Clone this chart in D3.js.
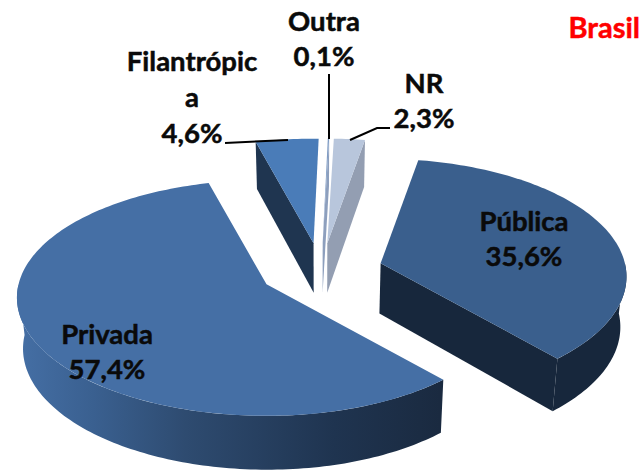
<!DOCTYPE html>
<html>

<head>
    <meta charset="utf-8">
    <title>Brasil</title>
    <script src="https://d3js.org/d3.v7.min.js" charset="utf-8"></script>
</head>

<body>
    <style>
        html,
        body {
            margin: 0;
            padding: 0;
            background: #ffffff;
        }

        svg {
            display: block;
        }

        .label {
            font: bold 27.5px Lato, "Noto Sans", sans-serif;
            fill: #0a0a0a;
            stroke: #0a0a0a;
            stroke-width: 0.5px;
            text-anchor: middle;
        }

        .title {
            font: bold 29px Lato, "Noto Sans", sans-serif;
            fill: #ff0000;
            stroke: #ff0000;
            stroke-width: 0.5px;
            text-anchor: end;
        }

        .leader {
            fill: none;
            stroke: #000000;
            stroke-width: 2px;
        }
    </style>
    <script>
      // values, clockwise from the NR / Publica border
      var categories = ["Pública", "Privada", "Filantrópica", "Outra", "NR"];
      var percentages = [35.6, 57.4, 4.6, 0.1, 2.3];
      var valueLabels = ["35,6%", "57,4%", "4,6%", "0,1%", "2,3%"];

      var faceColors = ["#3a5f8d", "#456fa5", "#4a7cb8", "#7f9cc4", "#b8c6dc"];
      var endWallColors = ["#17273c", null, null, "#8d9fbd", "#939eb2"];
      var startWallColors = [null, null, "#1f3550", null, null];

      var width = 644,
          height = 470;

      // pie geometry: centre, radii, explosion and extrusion of the 3D look
      var centre = {x: 321, y: 271},
          rx = 248,
          ry = 118,
          perspective = 0.114,
          explodeX = 62,
          explodeY = 28,
          bottomShrink = 0.02;

      var depth = d3.scaleLinear().domain([140, 400]).range([47, 53.5]);

      var pie = d3.pie()
                  .sort(null)
                  .startAngle(10 * Math.PI / 180)
                  .endAngle(370 * Math.PI / 180);

      var arcs = pie(percentages);

      var svg = d3.select("body")
                  .append("svg")
                  .attr("width", width)
                  .attr("height", height);

      var defs = svg.append("defs");

      // shaded outer wall of the big slice
      var rimGradient = defs.append("linearGradient")
                            .attr("id", "rim-shade")
                            .attr("gradientUnits", "userSpaceOnUse")
                            .attr("x1", 17).attr("x2", 440)
                            .attr("y1", 0).attr("y2", 0);
      rimGradient.append("stop").attr("offset", "0%").attr("stop-color", "#456fa5");
      rimGradient.append("stop").attr("offset", "18%").attr("stop-color", "#3a6090");
      rimGradient.append("stop").attr("offset", "40%").attr("stop-color", "#2e4b70");
      rimGradient.append("stop").attr("offset", "75%").attr("stop-color", "#1f3450");
      rimGradient.append("stop").attr("offset", "100%").attr("stop-color", "#1a2a40");

      var line = d3.line().x(d => d[0]).y(d => d[1]);

      function apex(d) {
        var mid = (d.startAngle + d.endAngle) / 2;
        return [centre.x + explodeX * Math.sin(mid), centre.y - explodeY * Math.cos(mid)];
      }

      // point of the top rim at angle a (clockwise from the back of the pie)
      function rim(d, a) {
        var o = apex(d),
            s = 1 - perspective * Math.cos(a);
        return [o[0] + rx * Math.sin(a) * s * (Math.sin(a) > 0 ? 0.985 : 1), o[1] - ry * Math.cos(a) * s];
      }

      // same point dropped to the bottom of the extrusion
      function drop(p) {
        return [p[0] + (centre.x - p[0]) * bottomShrink, p[1] + depth(p[1])];
      }

      function rimPoints(d, a0, a1) {
        var n = Math.max(2, Math.ceil((a1 - a0) / 0.02));
        return d3.range(n + 1).map(i => rim(d, a0 + (a1 - a0) * i / n));
      }

      function wall(top) {
        return line(top.concat(top.map(drop).reverse())) + "Z";
      }

      var g = svg.append("g");

      // draw back slices first, the big front ones last
      var order = [2, 3, 4, 0, 1];

      order.forEach(function(i) {
        var d = arcs[i],
            a0 = d.startAngle,
            a1 = d.endAngle,
            o = apex(d);

        if (startWallColors[i]) {
          g.append("path")
           .attr("d", wall([rim(d, a0), o]))
           .attr("fill", startWallColors[i]);
        }
        if (endWallColors[i]) {
          g.append("path")
           .attr("d", wall([o, rim(d, a1)]))
           .attr("fill", endWallColors[i]);
        }

        // outer wall, only the part that faces the viewer
        var from = Math.max(a0, Math.PI / 2),
            to = Math.min(a1, 3 * Math.PI / 2);
        if (to > from) {
          g.append("path")
           .attr("d", wall(rimPoints(d, from, to)))
           .attr("fill", i === 1 ? "url(#rim-shade)" : endWallColors[i]);
        }

        g.append("path")
         .attr("d", line([o].concat(rimPoints(d, a0, a1))) + "Z")
         .attr("fill", faceColors[i]);
      });

      // leader lines
      var leaders = [
        [[225, 143], [288, 140]],
        [[329, 74], [329, 139]],
        [[350, 140], [377, 128], [390, 128]]
      ];
      svg.selectAll("path.leader")
         .data(leaders)
         .enter()
         .append("path")
         .attr("class", "leader")
         .attr("d", d => line(d));

      // labels: text lines come from the arrays above
      var labelLines = [
        {lines: [categories[0], valueLabels[0]], x: 524, y: 231},
        {lines: [categories[1], valueLabels[1]], x: 107, y: 344},
        {lines: [categories[2].slice(0, 11), categories[2].slice(11), valueLabels[2]], x: 192, y: 71, gap: 36},
        {lines: [categories[3], valueLabels[3]], x: 324, y: 31},
        {lines: [categories[4], valueLabels[4]], x: 424, y: 93}
      ];

      labelLines.forEach(function(l) {
        l.lines.forEach(function(t, j) {
          svg.append("text")
             .attr("class", "label")
             .attr("x", l.x)
             .attr("y", l.y + j * (l.gap || 35))
             .text(t);
        });
      });

      svg.append("text")
         .attr("class", "title")
         .attr("x", 640)
         .attr("y", 38)
         .text("Brasil");
    </script>
</body>

</html>
